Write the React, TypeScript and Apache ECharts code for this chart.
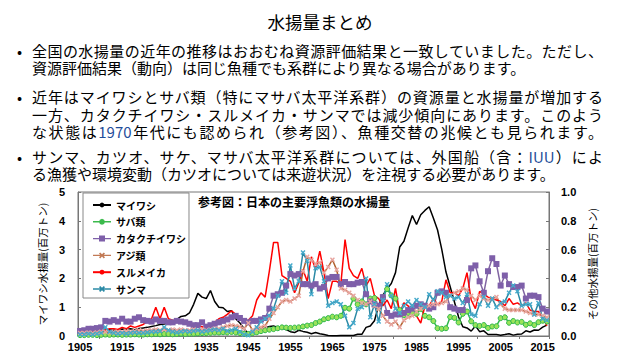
import React, { useEffect, useRef } from "react";
import * as echarts from "echarts";

const START_YEAR = 1905;
const END_YEAR = 2016;
const years: string[] = [];
for (let y = START_YEAR; y <= END_YEAR; y++) years.push(String(y));

// left axis (million t)
const maiwashi = [
  0.10, 0.12, 0.13, 0.15, 0.17, 0.18, 0.20, 0.22, 0.20, 0.22,
  0.24, 0.23, 0.25, 0.22, 0.26, 0.28, 0.30, 0.33, 0.36, 0.40,
  0.42, 0.45, 0.50, 0.58, 0.68, 0.70, 0.80, 1.10, 1.48, 1.35,
  1.30, 1.58, 1.20, 1.00, 0.98, 0.85, 0.88, 0.60, 0.45, 0.25,
  0.08, 0.20, 0.25, 0.25, 0.28, 0.33, 0.35, 0.30, 0.28, 0.22,
  0.15, 0.12, 0.20, 0.16, 0.13, 0.08, 0.12, 0.08, 0.05, 0.02,
  0.01, 0.01, 0.02, 0.02, 0.02, 0.02, 0.06, 0.06, 0.30, 0.35,
  0.53, 1.07, 1.42, 1.64, 1.82, 2.20, 3.09, 3.29, 3.75, 4.18,
  3.87, 4.21, 4.36, 4.49, 4.10, 3.68, 3.01, 2.22, 1.71, 1.19,
  0.66, 0.32, 0.28, 0.17, 0.35, 0.15, 0.18, 0.05, 0.05, 0.05,
  0.03, 0.05, 0.08, 0.03, 0.06, 0.07, 0.18, 0.14, 0.21, 0.20,
  0.31, 0.38,
];
const saba = [
  0.03, 0.03, 0.04, 0.04, 0.03, 0.04, 0.05, 0.04, 0.05, 0.05,
  0.04, 0.05, 0.05, 0.06, 0.05, 0.05, 0.06, 0.06, 0.07, 0.06,
  0.07, 0.07, 0.06, 0.07, 0.08, 0.07, 0.08, 0.08, 0.09, 0.10,
  0.10, 0.11, 0.12, 0.12, 0.13, 0.12, 0.14, 0.12, 0.10, 0.08,
  0.07, 0.10, 0.13, 0.17, 0.20, 0.22, 0.24, 0.27, 0.30, 0.29,
  0.28, 0.29, 0.30, 0.33, 0.36, 0.38, 0.45, 0.50, 0.58, 0.62,
  0.67, 0.65, 0.70, 0.98, 0.95, 1.30, 1.10, 1.20, 1.10, 1.30,
  1.32, 1.00, 1.35, 1.63, 1.41, 1.30, 0.90, 0.72, 0.80, 0.81,
  0.77, 0.94, 0.70, 0.65, 0.52, 0.27, 0.25, 0.27, 0.66, 0.63,
  0.47, 0.77, 0.85, 0.51, 0.38, 0.35, 0.38, 0.28, 0.33, 0.34,
  0.62, 0.65, 0.46, 0.52, 0.47, 0.49, 0.39, 0.44, 0.38, 0.48,
  0.53, 0.50,
];
// right axis (million t)
const katakuchi = [
  0.035, 0.04, 0.05, 0.05, 0.055, 0.06, 0.105, 0.10, 0.11, 0.10,
  0.12, 0.10, 0.10, 0.12, 0.13, 0.11, 0.105, 0.10, 0.115, 0.105,
  0.105, 0.095, 0.095, 0.105, 0.10, 0.095, 0.085, 0.075, 0.075, 0.095,
  0.065, 0.075, 0.085, 0.095, 0.105, 0.115, 0.13, 0.14, 0.125, 0.105,
  0.095, 0.105, 0.105, 0.115, 0.125, 0.19, 0.28, 0.29, 0.30, 0.35,
  0.43, 0.42, 0.43, 0.36, 0.36, 0.35, 0.36, 0.33, 0.34, 0.40,
  0.41, 0.41, 0.36, 0.375, 0.36, 0.36, 0.37, 0.375, 0.29, 0.24,
  0.22, 0.21, 0.27, 0.16, 0.14, 0.15, 0.15, 0.16, 0.18, 0.19,
  0.21, 0.22, 0.21, 0.19, 0.20, 0.30, 0.31, 0.30, 0.20, 0.19,
  0.18, 0.18, 0.25, 0.47, 0.49, 0.38, 0.30, 0.45, 0.54, 0.50,
  0.35, 0.42, 0.36, 0.34, 0.34, 0.35, 0.26, 0.28, 0.28, 0.27,
  0.19, 0.17,
];
const aji = [
  0.02, 0.02, 0.025, 0.02, 0.025, 0.03, 0.03, 0.025, 0.03, 0.03,
  0.03, 0.035, 0.03, 0.035, 0.04, 0.035, 0.04, 0.04, 0.045, 0.04,
  0.045, 0.04, 0.045, 0.04, 0.045, 0.04, 0.04, 0.045, 0.04, 0.045,
  0.04, 0.045, 0.05, 0.05, 0.06, 0.07, 0.075, 0.07, 0.065, 0.05,
  0.09, 0.04, 0.05, 0.06, 0.07, 0.12, 0.16, 0.20, 0.24, 0.25,
  0.24, 0.26, 0.28, 0.45, 0.55, 0.53, 0.50, 0.51, 0.44, 0.48,
  0.53, 0.46, 0.33, 0.32, 0.30, 0.28, 0.25, 0.23, 0.22, 0.24,
  0.21, 0.19, 0.14, 0.10, 0.08, 0.10, 0.06, 0.11, 0.13, 0.14,
  0.17, 0.19, 0.20, 0.21, 0.22, 0.22, 0.23, 0.24, 0.28, 0.30,
  0.31, 0.33, 0.32, 0.28, 0.25, 0.28, 0.26, 0.25, 0.26, 0.27,
  0.22, 0.19, 0.18, 0.18, 0.18, 0.18, 0.17, 0.16, 0.15, 0.15,
  0.14, 0.13,
];
const surume = [
  0.03, 0.035, 0.03, 0.04, 0.035, 0.04, 0.04, 0.05, 0.05, 0.045,
  0.06, 0.05, 0.07, 0.06, 0.07, 0.08, 0.10, 0.12, 0.20, 0.12,
  0.20, 0.12, 0.11, 0.10, 0.095, 0.10, 0.09, 0.08, 0.07, 0.065,
  0.05, 0.06, 0.095, 0.12, 0.13, 0.15, 0.175, 0.15, 0.12, 0.10,
  0.11, 0.14, 0.25, 0.30, 0.27, 0.45, 0.65, 0.65, 0.42, 0.40,
  0.38, 0.30, 0.37, 0.46, 0.38, 0.55, 0.46, 0.59, 0.44, 0.26,
  0.38, 0.38, 0.36, 0.67, 0.47, 0.42, 0.40, 0.47, 0.35, 0.40,
  0.28, 0.26, 0.21, 0.25, 0.19, 0.33, 0.16, 0.23, 0.21, 0.16,
  0.14, 0.09, 0.21, 0.21, 0.26, 0.22, 0.24, 0.39, 0.30, 0.30,
  0.28, 0.33, 0.44, 0.25, 0.19, 0.31, 0.29, 0.27, 0.26, 0.25,
  0.24, 0.21, 0.26, 0.22, 0.23, 0.21, 0.23, 0.18, 0.17, 0.17,
  0.13, 0.07,
];
const sanma = [
  0.01, 0.01, 0.015, 0.01, 0.015, 0.02, 0.06, 0.03, 0.02, 0.015,
  0.02, 0.015, 0.02, 0.025, 0.02, 0.02, 0.025, 0.03, 0.03, 0.035,
  0.06, 0.04, 0.03, 0.025, 0.03, 0.035, 0.03, 0.035, 0.04, 0.03,
  0.035, 0.04, 0.045, 0.04, 0.05, 0.035, 0.04, 0.05, 0.03, 0.01,
  0.005, 0.03, 0.06, 0.10, 0.12, 0.14, 0.19, 0.28, 0.38, 0.30,
  0.49, 0.33, 0.38, 0.58, 0.52, 0.29, 0.47, 0.48, 0.38, 0.21,
  0.23, 0.24, 0.22, 0.14, 0.06, 0.09, 0.19, 0.20, 0.40, 0.13,
  0.22, 0.10, 0.25, 0.36, 0.28, 0.19, 0.16, 0.21, 0.24, 0.21,
  0.25, 0.22, 0.20, 0.29, 0.25, 0.31, 0.30, 0.27, 0.28, 0.26,
  0.27, 0.23, 0.29, 0.15, 0.14, 0.22, 0.27, 0.21, 0.26, 0.20,
  0.23, 0.24, 0.30, 0.35, 0.31, 0.21, 0.22, 0.22, 0.15, 0.23,
  0.12, 0.11,
];

const leftTicks = [0, 5, 1];
const rightTicks = [0, 1, 0.2];

const X_SYMBOL = "path://M2,0L5,3L8,0L10,2L7,5L10,8L8,10L5,7L2,10L0,8L3,5L0,2Z";
// legend icons: a thin line with a small marker in its middle (18 x 6 box)
const LINE_PART = "M0,2.3L18,2.3L18,3.7L0,3.7Z";
const ICON_CIRCLE = "path://" + LINE_PART + "M12,3L11.1,5.1L9,6L6.9,5.1L6,3L6.9,0.9L9,0L11.1,0.9Z";
const ICON_RECT = "path://" + LINE_PART + "M6,0L12,0L12,6L6,6Z";
const ICON_X =
  "path://" + LINE_PART + "M7.2,0L9,1.8L10.8,0L12,1.2L10.2,3L12,4.8L10.8,6L9,4.2L7.2,6L6,4.8L7.8,3L6,1.2Z";

const CJK = '"Noto Sans CJK JP", sans-serif';
const LAT = '"Liberation Sans", Arial, sans-serif';
const BLUE = "#1F4E9A";

const lines: { c: number; just: boolean; parts: (string | { blue: string })[] }[] = [
  { c: 50, just: true, parts: ["全国の水揚量の近年の推移はおおむね資源評価結果と一致していました。ただし、"] },
  { c: 67.5, just: false, parts: ["資源評価結果（動向）は同じ魚種でも系群により異なる場合があります。"] },
  { c: 96.5, just: true, parts: ["近年はマイワシとサバ類（特にマサバ太平洋系群）の資源量と水揚量が増加する"] },
  { c: 114, just: true, parts: ["一方、カタクチイワシ・スルメイカ・サンマでは減少傾向にあります。このよう"] },
  { c: 131.5, just: true, parts: ["な状態は", { blue: "1970" }, "年代にも認められ（参考図）、魚種交替の兆候とも見られます。"] },
  { c: 156, just: true, parts: ["サンマ、カツオ、サケ、マサバ太平洋系群については、外国船（含：", { blue: "IUU" }, "）によ"] },
  { c: 173.5, just: false, parts: ["る漁獲や環境変動（カツオについては来遊状況）を注視する必要があります。"] },
];
const bulletCenters = [50, 96.5, 156];
const FS = 15;
const LH = 15;
const TEXT_LEFT = 32;
const TEXT_RIGHT = 603;

export default function App() {
  const ref = useRef<HTMLDivElement>(null);
  useEffect(() => {
    const chart = echarts.init(ref.current!, null, { renderer: "svg" });
    const axisLabel = { fontSize: 11, fontWeight: "bold", color: "#000", fontFamily: LAT };
    chart.setOption({
      animation: false,
      title: {
        text: "参考図：日本の主要浮魚類の水揚量",
        left: 198,
        top: 10,
        padding: 0,
        textStyle: { fontSize: 12, fontWeight: "bold", color: "#000", fontFamily: CJK },
      },
      legend: {
        orient: "vertical",
        left: 83,
        top: 8,
        padding: [6, 3, 3, 9],
        itemWidth: 18,
        itemHeight: 6,
        itemGap: 4.8,
        symbolKeepAspect: false,
        backgroundColor: "#fff",
        borderColor: "#888",
        borderWidth: 1,
        textStyle: { fontSize: 10, fontWeight: "bold", color: "#000", fontFamily: CJK, lineHeight: 12 },
        data: [
          { name: "マイワシ" },
          { name: "サバ類", icon: ICON_CIRCLE, itemStyle: { color: "#3BBA4C", borderWidth: 0 } },
          { name: "カタクチイワシ", icon: ICON_RECT, itemStyle: { color: "#7E5FA9", borderWidth: 0 } },
          { name: "アジ類", icon: ICON_X, itemStyle: { color: "#C27A55", borderWidth: 0 } },
          { name: "スルメイカ" },
          { name: "サンマ", icon: ICON_X, itemStyle: { color: "#2B8AA6", borderWidth: 0 } },
        ],
      },
      grid: { left: 78, right: 91, top: 7, bottom: 24, show: true, borderColor: "#777", borderWidth: 1, backgroundColor: "transparent" },
      xAxis: {
        type: "category",
        data: years,
        boundaryGap: true,
        axisLine: { lineStyle: { color: "#777" } },
        axisTick: { show: true, length: 3, interval: (i: number) => i % 10 === 5, lineStyle: { color: "#777" } },
        axisLabel: { ...axisLabel, interval: 9, margin: 5 },
      },
      yAxis: [
        {
          type: "value",
          min: leftTicks[0],
          max: leftTicks[1],
          interval: leftTicks[2],
          position: "left",
          axisLine: { show: true, lineStyle: { color: "#777" } },
          axisTick: { show: true, inside: true, length: 3, lineStyle: { color: "#777" } },
          splitLine: { show: false },
          axisLabel: { ...axisLabel, margin: 13 },
          name: "マイワシ水揚量(百万トン)",
          nameLocation: "middle",
          nameRotate: 90,
          nameGap: 30,
          nameTextStyle: { fontSize: 10.5, color: "#000", fontFamily: CJK },
        },
        {
          type: "value",
          min: rightTicks[0],
          max: rightTicks[1],
          interval: rightTicks[2],
          position: "right",
          axisLine: { show: true, lineStyle: { color: "#777" } },
          axisTick: { show: true, inside: true, length: 3, lineStyle: { color: "#777" } },
          splitLine: { show: false },
          axisLabel: { ...axisLabel, margin: 12, formatter: (v: number) => v.toFixed(1) },
          name: "その他水揚量(百万トン)",
          nameLocation: "middle",
          nameRotate: 90,
          nameGap: 37,
          nameTextStyle: { fontSize: 10.5, color: "#000", fontFamily: CJK },
        },
      ],
      series: [
        {
          name: "マイワシ", type: "line", yAxisIndex: 0, data: maiwashi, symbol: "none",
          lineStyle: { color: "#000", width: 1.5 }, itemStyle: { color: "#000" },
        },
        {
          name: "サバ類", type: "line", yAxisIndex: 0, data: saba, symbol: "circle", symbolSize: 5, showAllSymbol: true,
          lineStyle: { color: "#2DB84A", width: 1.5 }, itemStyle: { color: "#9BE35A", borderColor: "#2DB84A", borderWidth: 1 },
        },
        {
          name: "カタクチイワシ", type: "line", yAxisIndex: 1, data: katakuchi, symbol: "rect", symbolSize: 6, showAllSymbol: true,
          lineStyle: { color: "#8064A2", width: 1.5 }, itemStyle: { color: "#7E5FA9" },
        },
        {
          name: "アジ類", type: "line", yAxisIndex: 1, data: aji, symbol: X_SYMBOL, symbolSize: 5, showAllSymbol: true,
          lineStyle: { color: "#B0602C", width: 1.5 }, itemStyle: { color: "#E8A5A0" },
        },
        {
          name: "スルメイカ", type: "line", yAxisIndex: 1, data: surume, symbol: "none",
          lineStyle: { color: "#FF0000", width: 1.5 }, itemStyle: { color: "#FF0000" },
        },
        {
          name: "サンマ", type: "line", yAxisIndex: 1, data: sanma, symbol: X_SYMBOL, symbolSize: 5, showAllSymbol: true,
          lineStyle: { color: "#2B8AA6", width: 1.5 }, itemStyle: { color: "#46AACB" },
        },
      ],
    });
    return () => chart.dispose();
  }, []);

  return (
    <div
      style={{
        position: "fixed",
        left: 0,
        top: 0,
        width: 640,
        height: 360,
        background: "#fff",
        fontFamily: CJK,
        color: "#000",
        overflow: "hidden",
      }}
    >
      <div style={{ position: "absolute", left: 0, top: 12, width: 640, textAlign: "center", fontSize: 17.5, lineHeight: "20px" }}>
        水揚量まとめ
      </div>
      {bulletCenters.map((c, i) => (
        <div key={"b" + i} style={{ position: "absolute", left: 17, top: c - LH / 2, fontSize: FS, lineHeight: LH + "px" }}>
          •
        </div>
      ))}
      {lines.map((l, i) => (
        <div
          key={i}
          style={{
            position: "absolute",
            left: TEXT_LEFT,
            top: l.c - LH / 2,
            width: l.just ? TEXT_RIGHT - TEXT_LEFT : undefined,
            fontSize: FS,
            lineHeight: LH + "px",
            whiteSpace: l.just ? "normal" : "nowrap",
            textAlign: l.just ? "justify" : "left",
            textAlignLast: l.just ? "justify" : "auto",
            textJustify: "inter-character",
          } as React.CSSProperties}
        >
          {l.parts.map((p, j) =>
            typeof p === "string" ? (
              <span key={j}>{p}</span>
            ) : (
              <span key={j} style={{ color: BLUE }}>{p.blue}</span>
            )
          )}
        </div>
      ))}
      <div ref={ref} style={{ position: "absolute", left: 0, top: 185, width: 640, height: 175 }} />
    </div>
  );
}
